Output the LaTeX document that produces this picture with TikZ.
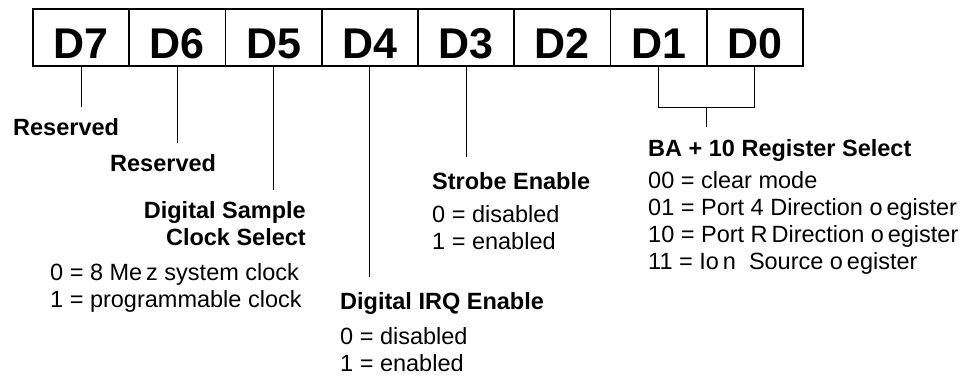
\documentclass[tikz,border=0pt]{standalone}
\usepackage{fontspec}
\setmainfont{Liberation Sans}
\usetikzlibrary{calc}

\tikzset{
  bitcell/.style={draw,line width=1.8pt,minimum width=96.25pt,minimum height=57pt,inner sep=0pt,
    text height=41pt,text depth=0pt,font=\fontsize{43}{43}\selectfont\bfseries},
  head/.style={inner sep=0pt,font=\fontsize{23.5}{27}\selectfont\bfseries},
  vals/.style={inner sep=0pt,align=left,font=\fontsize{23.5}{27}\selectfont},
  tick/.style={line width=1.1pt,shorten >=11.6pt},
}

\begin{document}
\begin{tikzpicture}[x=1pt,y=-1pt,line cap=butt]
  \useasboundingbox (0,0) rectangle (969,375);
  % the eight bits of the register
  \foreach \b [count=\i from 0] in {7,6,...,0}
    \node[bitcell] (d\b) at ({33+96.25*(\i+0.5)},37.5) {D\b};

  % field names and their settings
  \node[head,anchor=north west] (res7) at (13,118.6) {Reserved};
  \node[head,anchor=north west] (res6) at (110,154.6) {Reserved};
  \node[head,anchor=north east,align=right] (clk) at (306,201.6) {Digital Sample\\Clock Select};
  \node[vals,anchor=north west] (clkv) at (50,263.6) {0 = 8 Me\,z system clock\\1 = programmable clock};
  \node[head,anchor=north west] (irq) at (340,292.6) {Digital IRQ Enable};
  \node[vals,anchor=north west] (irqv) at (340,327.6) {0 = disabled\\1 = enabled};
  \node[head,anchor=north west] (stb) at (432,172.6) {Strobe Enable};
  \node[vals,anchor=north west] (stbv) at (432,205.6) {0 = disabled\\1 = enabled};
  \node[head,anchor=north west] (sel) at (648,139.6) {BA + 10 Register Select};
  \node[vals,anchor=north west] (selv) at (648,171.6)
    {00 = clear mode\\01 = Port 4 Direction o\,egister\\10 = Port R\,Direction o\,egister\\11 = Io\,n~ Source o\,egister};

  % leader lines
  \draw[tick] (d7.south) -- (d7.south |- res7.north);
  \draw[tick] (d6.south) -- (d6.south |- res6.north);
  \draw[tick] (d5.south) -- (d5.south |- clk.north);
  \draw[tick,shorten >=15.6pt] (d4.south) -- (d4.south |- irq.north);
  \draw[tick,shorten >=15.6pt] (d3.south) -- (d3.south |- stb.north);

  % bracket over D1 and D0
  \draw[tick,shorten >=0pt] (d1.south) -- ++(0,41) -| (d0.south);
  \coordinate (brk) at ($(d1.south)!.5!(d0.south)+(0,41)$);
  \draw[tick,shorten >=12.6pt] (brk) -- (brk |- sel.north);
\end{tikzpicture}
\end{document}
